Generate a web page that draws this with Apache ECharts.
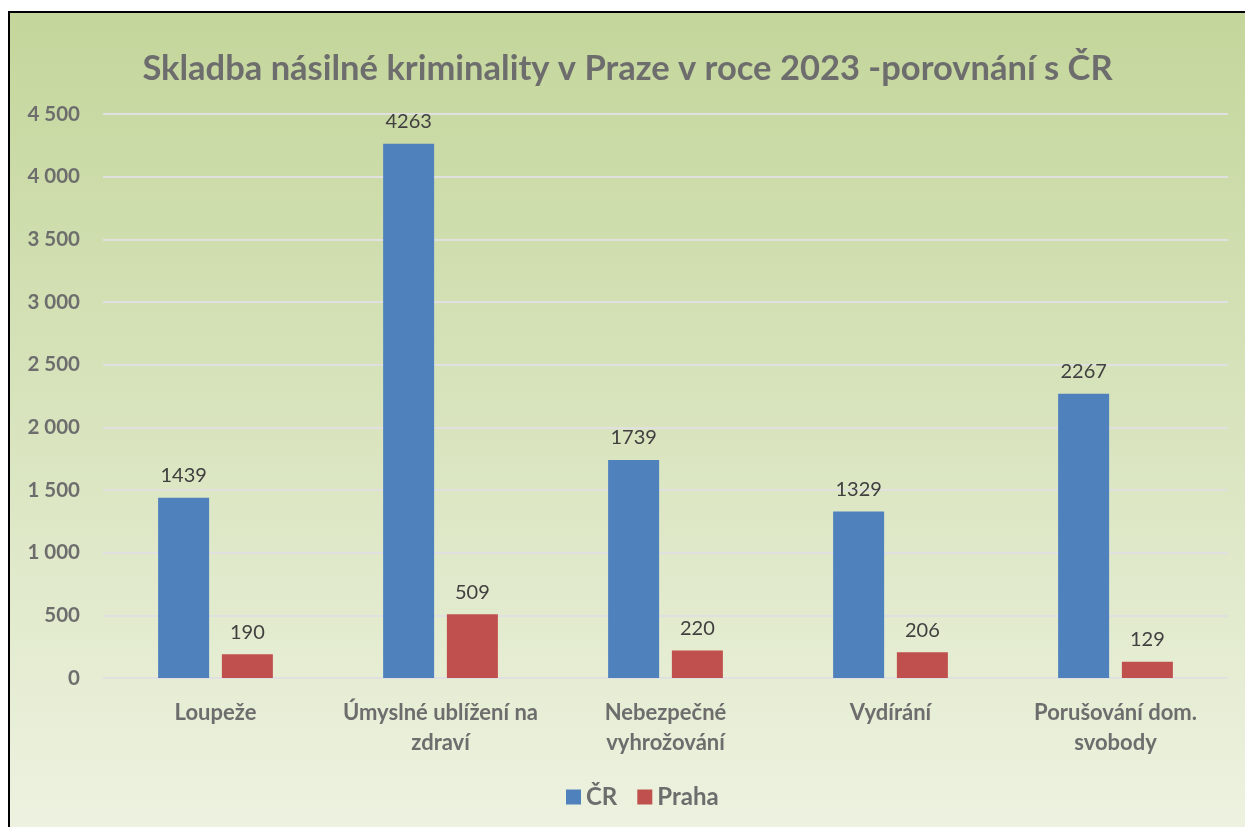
<!DOCTYPE html>
<html><head><meta charset="utf-8">
<script src="https://cdn.jsdelivr.net/npm/echarts@6/dist/echarts.min.js"></script>
<style>
html,body{margin:0;padding:0;background:#fff;width:1245px;height:827px;overflow:hidden}
#wrap{position:absolute;left:8px;top:11px;width:1237px;height:816px;border-top:2px solid #000;border-left:2px solid #000;box-sizing:border-box}
#c{width:1235px;height:814px}
</style></head><body>
<div id="wrap"><div id="c"></div></div>
<script>
const titleText = 'Skladba násilné kriminality v Praze v roce 2023 -porovnání s ČR';
const categories = ['Loupeže', 'Úmyslné ublížení na\nzdraví', 'Nebezpečné\nvyhrožování', 'Vydírání', 'Porušování dom.\nsvobody'];
const seriesNames = ['ČR', 'Praha'];
const crValues = [1439, 4263, 1739, 1329, 2267];
const prahaValues = [190, 509, 220, 206, 129];
const colors = ['#4f81bd', '#c0504d'];
const F = 'Lato, "Open Sans", sans-serif';
const chart = echarts.init(document.getElementById('c'));
chart.setOption({
  backgroundColor: new echarts.graphic.LinearGradient(0,0,0,1,[{offset:0,color:'#c4d69b'},{offset:1,color:'#edf2e0'}]),
  animation:false,
  title:{text:titleText,left:'center',top:33,textStyle:{fontFamily:F,fontSize:34.5,fontWeight:'bold',color:'#6d6d6d'}},
  legend:{bottom:13,left:551,itemWidth:15,itemHeight:15,itemGap:20,icon:'rect',
    textStyle:{fontFamily:F,fontSize:24,fontWeight:'bold',color:'#6d6d6d'},data:seriesNames},
  grid:{left:93,right:17,top:101,bottom:149,containLabel:false},
  xAxis:{type:'category',data:categories,axisLine:{show:false},axisTick:{show:false},
    axisLabel:{interval:0,margin:20,lineHeight:30,fontFamily:F,fontSize:22,fontWeight:'bold',color:'#6d6d6d'}},
  yAxis:{type:'value',min:0,max:4500,interval:500,
    axisLine:{show:false},axisTick:{show:false},
    splitLine:{lineStyle:{color:'#e0e0e0',width:2}},
    axisLabel:{margin:23,fontFamily:F,fontSize:20.5,fontWeight:'bold',color:'#6d6d6d',
      formatter:v=>v>=1000?Math.floor(v/1000)+' '+String(v%1000).padStart(3,'0'):String(v)}},
  series:[
    {name:seriesNames[0],type:'bar',data:crValues,barWidth:51,barGap:'25%',itemStyle:{color:colors[0]},
     label:{show:true,position:'top',distance:12,fontFamily:F,fontSize:20,color:'#404040'}},
    {name:seriesNames[1],type:'bar',data:prahaValues,barWidth:51,itemStyle:{color:colors[1]},
     label:{show:true,position:'top',distance:12,fontFamily:F,fontSize:20,color:'#404040'}}
  ]
});
</script></body></html>
